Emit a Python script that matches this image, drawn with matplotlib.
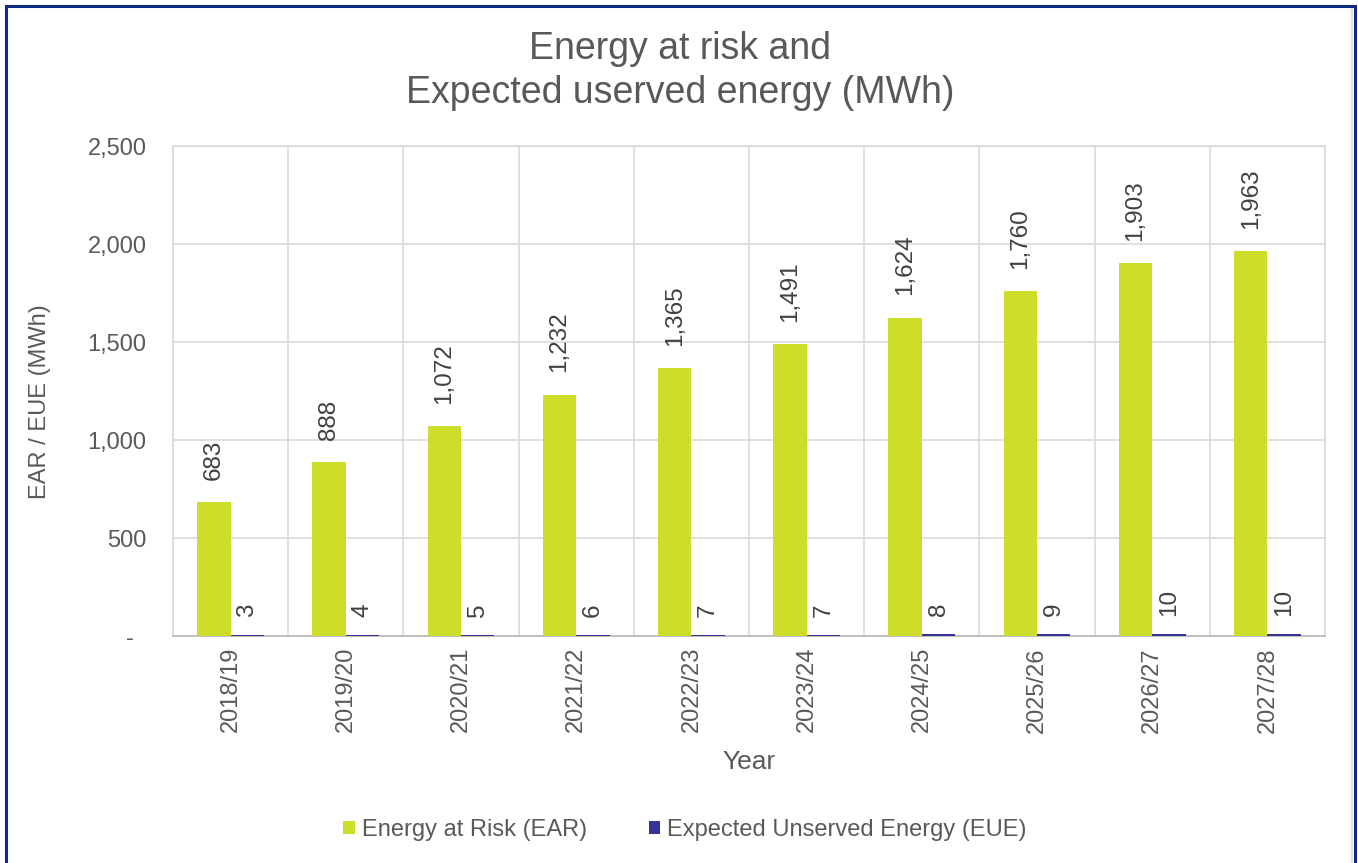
import matplotlib
matplotlib.use("Agg")
import matplotlib.pyplot as plt
from matplotlib.patches import Rectangle
from matplotlib.lines import Line2D
import numpy as np

plt.rcParams['font.family'] = ['Liberation Sans', 'DejaVu Sans']

years = ["2018/19", "2019/20", "2020/21", "2021/22", "2022/23",
         "2023/24", "2024/25", "2025/26", "2026/27", "2027/28"]
ear = [683, 888, 1072, 1232, 1365, 1491, 1624, 1760, 1903, 1963]
eue = [3, 4, 5, 6, 7, 7, 8, 9, 10, 10]
y_ticks = [0, 500, 1000, 1500, 2000, 2500]

ear_color = "#CEDC2A"
eue_color = "#333399"
text_color = "#595959"
grid_color = "#D9D9D9"

W, H = 1358, 863
fig = plt.figure(figsize=(W / 100, H / 100), dpi=100)
ax = fig.add_axes([173 / W, 1 - 636 / H, (1325 - 173) / W, (636 - 146) / H])

x = np.arange(len(years))
bw = 0.29
ax.bar(x - bw / 2, ear, width=bw, color=ear_color, zorder=3, label="Energy at Risk (EAR)")
ax.bar(x + bw / 2, eue, width=bw, color=eue_color, zorder=3, label="Expected Unserved Energy (EUE)")

# value labels above each bar, rotated
for xi, v in zip(x, ear):
    ax.annotate(f"{v:,}", (xi - bw / 2, v), xytext=(0, 16), textcoords="offset points",
                rotation=90, ha="center", va="bottom", fontsize=17.5, color="#404040")
for xi, v in zip(x, eue):
    ax.annotate(f"{v:,}", (xi + bw / 2, v), xytext=(0, 13), textcoords="offset points",
                rotation=90, ha="center", va="bottom", fontsize=17.5, color="#404040")

ax.set_xlim(-0.5, len(years) - 0.5)
ax.set_ylim(0, 2500)
ax.set_yticks(y_ticks)
ax.set_yticklabels([f"{t:,}" if t else "-  " for t in y_ticks])
ax.set_xticks(x)
ax.set_xticklabels(years, rotation=90)
ax.set_xticks(np.arange(-0.5, len(years), 1.0), minor=True)

ax.tick_params(axis="y", length=0, pad=19, labelsize=17, labelcolor=text_color)
ax.tick_params(axis="x", which="both", length=0, pad=8, labelsize=17, labelcolor=text_color)

ax.grid(axis="y", which="major", color=grid_color, lw=1.2, zorder=0)
ax.grid(axis="x", which="minor", color=grid_color, lw=1.2, zorder=0)
ax.grid(axis="x", which="major", visible=False)
for side in ["left", "top", "right"]:
    ax.spines[side].set_color(grid_color)
    ax.spines[side].set_linewidth(1.2)
ax.spines["bottom"].set_color("#BFBFBF")
ax.spines["bottom"].set_linewidth(1.4)

fig.text(40 / W, 1 - 402 / H, "EAR / EUE (MWh)", rotation=90, ha="center", va="center",
         fontsize=17, color=text_color)
fig.text(749 / W, 1 - 762 / H, "Year", ha="center", va="center", fontsize=19, color=text_color)

fig.text(680 / W, 1 - 71 / H, "Energy at risk and\nExpected userved energy (MWh)",
         ha="center", va="center", fontsize=27, color=text_color, linespacing=1.3)

fig.legend(loc="center", bbox_to_anchor=(685 / W, 1 - 830 / H), ncol=2, frameon=False,
           fontsize=17, labelcolor=text_color, handlelength=0.5, handleheight=0.5,
           handletextpad=0.3, columnspacing=2.6)

# outer frame
fig.patches.append(Rectangle((6 / W, -0.05), (1349 / W), 1.05 - 6 / H, transform=fig.transFigure,
                             fill=False, edgecolor="#0D2A85", lw=2.2, zorder=10))
fig.lines.append(Line2D([1352 / W, 1352 / W], [0, 1 - 8 / H], transform=fig.transFigure,
                        color="#E0E0E0", lw=1.5))

fig.savefig("out.png", dpi=100, facecolor="white")
